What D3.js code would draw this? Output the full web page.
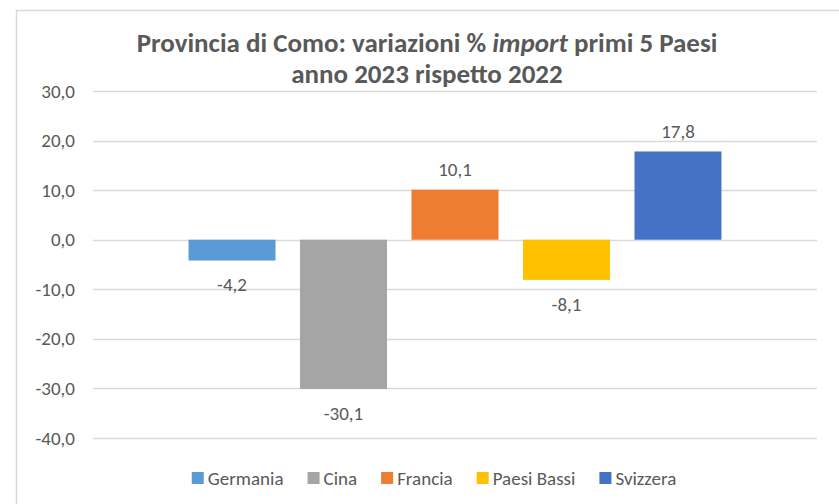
<!DOCTYPE html>
<html>
<head>
<meta charset="utf-8">
<script src="https://cdn.jsdelivr.net/npm/d3@7"></script>
<style>
  body { margin: 0; background: #fff; }
  svg { display: block; font-family: Calibri, Carlito, Lato, sans-serif; }
</style>
</head>
<body>
<svg id="drawing_region"></svg>
<script>
// data
const paesi = ["Germania", "Cina", "Francia", "Paesi Bassi", "Svizzera"];
const variazioni = [-4.2, -30.1, 10.1, -8.1, 17.8];
const colori = ["#5B9BD5", "#A5A5A5", "#ED7D31", "#FFC000", "#4472C4"];
const yTicks = [-40, -30, -20, -10, 0, 10, 20, 30];
const titolo = ["Provincia di Como: variazioni % ", "import", " primi 5 Paesi"];
const titolo2 = "anno 2023 rispetto 2022";

const data = paesi.map((p, i) => ({ paese: p, valore: variazioni[i], colore: colori[i] }));

const width = 839, height = 504;
const margin = { top: 91, right: 22, bottom: 66, left: 93 };
const inner_width = width - margin.left - margin.right;
const inner_height = height - margin.top - margin.bottom;
// italian style: comma decimal, plain hyphen for negatives
const fmt = v => d3.format(".1f")(v).replace(".", ",").replace("\u2212", "-");
const textColor = "#595959";

const svg = d3.select("#drawing_region")
    .attr("width", width)
    .attr("height", height);

// chart area border (only top and left visible, rest is cropped)
svg.append("path")
    .attr("d", "M16.5,504 L16.5,10.5 L839,10.5")
    .attr("fill", "none")
    .attr("stroke", "#D9D9D9")
    .attr("stroke-width", 1.5);

// title
const title = svg.append("text")
    .attr("x", 427)
    .attr("y", 52)
    .attr("text-anchor", "middle")
    .attr("fill", textColor)
    .attr("font-size", "27px")
    .attr("font-weight", "bold");
title.append("tspan").text(titolo[0]);
title.append("tspan").attr("font-style", "italic").text(titolo[1]);
title.append("tspan").text(titolo[2]);

svg.append("text")
    .attr("x", 427)
    .attr("y", 83)
    .attr("text-anchor", "middle")
    .attr("fill", textColor)
    .attr("font-size", "27px")
    .attr("font-weight", "bold")
    .text(titolo2);

const chart = svg.append("g")
    .attr("transform", `translate(${margin.left}, ${margin.top})`);

const xscale = d3.scaleBand()
    .domain(paesi)
    .range([0, inner_width])
    .paddingInner(0.22)
    .paddingOuter(0.857);

const yscale = d3.scaleLinear()
    .domain([-40, 30])
    .range([inner_height, 0]);

// gridlines
chart.selectAll(".grid")
    .data(yTicks)
    .join("line")
    .attr("class", "grid")
    .attr("x1", 0)
    .attr("x2", inner_width)
    .attr("y1", d => Math.round(yscale(d)) + 0.5)
    .attr("y2", d => Math.round(yscale(d)) + 0.5)
    .attr("stroke", "#D9D9D9")
    .attr("stroke-width", 1.5);

// y axis labels
const yaxis = d3.axisLeft(yscale)
    .tickValues(yTicks)
    .tickFormat(fmt)
    .tickSize(0)
    .tickPadding(18);

chart.append("g")
    .call(yaxis)
    .call(g => g.select(".domain").remove())
    .call(g => g.selectAll("text")
        .attr("fill", textColor)
        .attr("font-size", "19px")
        .attr("font-family", "Calibri, Carlito, Lato, sans-serif"));

// bars
chart.selectAll(".bar")
    .data(data)
    .join("rect")
    .attr("class", "bar")
    .attr("x", d => xscale(d.paese))
    .attr("width", xscale.bandwidth())
    .attr("y", d => yscale(Math.max(0, d.valore)))
    .attr("height", d => Math.abs(yscale(d.valore) - yscale(0)))
    .attr("fill", d => d.colore);

// data labels
chart.selectAll(".label")
    .data(data)
    .join("text")
    .attr("class", "label")
    .attr("x", d => xscale(d.paese) + xscale.bandwidth() / 2)
    .attr("y", d => d.valore >= 0 ? yscale(d.valore) - 20 : yscale(d.valore) + 24)
    .attr("dy", "0.35em")
    .attr("text-anchor", "middle")
    .attr("fill", textColor)
    .attr("font-size", "19px")
    .text(d => fmt(d.valore));

// legend
const legend = svg.append("g");
const items = legend.selectAll("g")
    .data(data)
    .join("g");
items.append("rect")
    .attr("width", 12)
    .attr("height", 12)
    .attr("y", -6)
    .attr("fill", d => d.colore);
items.append("text")
    .attr("x", 16)
    .attr("dy", "0.35em")
    .attr("fill", textColor)
    .attr("font-size", "19px")
    .text(d => d.paese);

let pos = 0;
items.each(function () {
    const w = this.querySelector("text").getComputedTextLength();
    d3.select(this).attr("transform", `translate(${pos}, 0)`);
    pos += 16 + w + 24;
});
const legend_width = pos - 24;
legend.attr("transform", `translate(${434 - legend_width / 2}, 478)`);
</script>
</body>
</html>
